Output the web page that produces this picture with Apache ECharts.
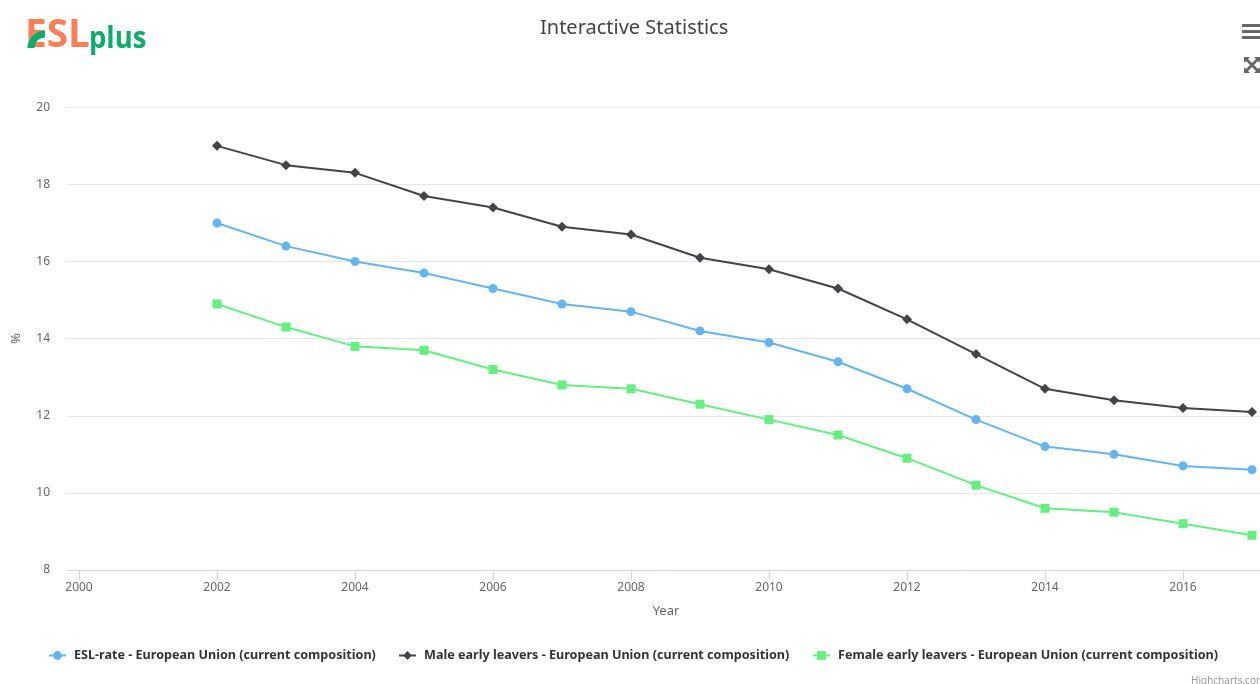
<!DOCTYPE html>
<html>
<head>
<meta charset="utf-8">
<title>Interactive Statistics</title>
<style>
  html, body { margin: 0; padding: 0; background: #fff; overflow: hidden; }
  #chart { width: 1260px; height: 684px; }
</style>
<script src="https://cdn.jsdelivr.net/npm/echarts@6/dist/echarts.min.js"></script>
</head>
<body>
<div id="chart"></div>
<script>
// Early school leaving, European Union, percent per year
const years = [2002, 2003, 2004, 2005, 2006, 2007, 2008, 2009, 2010, 2011, 2012, 2013, 2014, 2015, 2016, 2017];
const eslRate = [17, 16.4, 16, 15.7, 15.3, 14.9, 14.7, 14.2, 13.9, 13.4, 12.7, 11.9, 11.2, 11, 10.7, 10.6];
const maleLeavers = [19, 18.5, 18.3, 17.7, 17.4, 16.9, 16.7, 16.1, 15.8, 15.3, 14.5, 13.6, 12.7, 12.4, 12.2, 12.1];
const femaleLeavers = [14.9, 14.3, 13.8, 13.7, 13.2, 12.8, 12.7, 12.3, 11.9, 11.5, 10.9, 10.2, 9.6, 9.5, 9.2, 8.9];
const yearTicks = [2000, 2002, 2004, 2006, 2008, 2010, 2012, 2014, 2016];
const seriesNames = [
  'ESL-rate - European Union (current composition)',
  'Male early leavers - European Union (current composition)',
  'Female early leavers - European Union (current composition)'
];

const FONT = '"Noto Sans", "Open Sans", sans-serif';
const pairs = vals => years.map((y, i) => [y, vals[i]]);

const makeSeries = (name, vals, color, symbol, size) => ({
  name, type: 'line', data: pairs(vals), symbol, symbolSize: size,
  showAllSymbols: true, clip: false,
  lineStyle: { color, width: 2 },
  itemStyle: { color },
  emphasis: { disabled: true }
});

const makeLegend = (name, left) => ({
  data: [name], left, top: 649, padding: 0, itemWidth: 17, itemHeight: 11, itemGap: 0,
  textStyle: { fontFamily: FONT, fontSize: 12.6, fontWeight: 'bold', color: '#333', padding: [0, 0, 0, 3] },
  selectedMode: false
});

const chart = echarts.init(document.getElementById('chart'), null, { renderer: 'canvas' });
chart.setOption({
  animation: false,
  backgroundColor: '#fff',
  title: {
    text: 'Interactive Statistics', left: 540, top: 18, padding: 0,
    textStyle: { fontFamily: FONT, fontSize: 20, fontWeight: 'normal', color: '#444' }
  },
  legend: [
    makeLegend(seriesNames[0], 48),
    makeLegend(seriesNames[1], 398),
    makeLegend(seriesNames[2], 812)
  ],
  grid: { left: 67, right: 0, top: 107.3, bottom: 114, containLabel: false, outerBoundsMode: 'none' },
  xAxis: {
    type: 'value', min: 1999.826, max: 2017.116,
    name: 'Year', nameLocation: 'middle', nameGap: 35,
    nameTextStyle: { fontFamily: FONT, fontSize: 13, color: '#666', padding: [0, 0, 0, 5] },
    splitLine: { show: false },
    axisLine: { show: true, lineStyle: { color: '#ccd6eb', width: 1 } },
    axisTick: { show: true, length: 10, lineStyle: { color: '#ccd6eb' }, customValues: yearTicks },
    axisLabel: {
      fontFamily: FONT, fontSize: 12, color: '#666', margin: 12,
      customValues: yearTicks, formatter: v => String(Math.round(v))
    }
  },
  yAxis: {
    type: 'value', min: 8, max: 20, interval: 2,
    name: '%', nameLocation: 'middle', nameGap: 44, nameRotate: 90,
    nameTextStyle: { fontFamily: FONT, fontSize: 13, color: '#666' },
    axisLine: { show: false }, axisTick: { show: false },
    splitLine: { lineStyle: { color: '#e6e6e6', width: 1 } },
    axisLabel: { fontFamily: FONT, fontSize: 12, color: '#666', margin: 17 }
  },
  series: [
    makeSeries(seriesNames[0], eslRate, '#64b5ee', 'circle', 9),
    makeSeries(seriesNames[1], maleLeavers, '#434348', 'diamond', 10),
    makeSeries(seriesNames[2], femaleLeavers, '#66ee80', 'rect', 9)
  ],
  graphic: [
    // Brand mark: lettering with a swoosh across the E
    { type: 'text', x: 25, y: 16, scaleX: 0.97, style: { text: 'ESL', fontFamily: '"Open Sans", sans-serif', fontSize: 40, fontWeight: 'bold', fill: '#fb8058' } },
    { type: 'arc', shape: { cx: 45, cy: 48, r: 14, startAngle: Math.PI, endAngle: Math.PI * 1.5 }, style: { stroke: '#0dac6b', lineWidth: 7, fill: 'none' } },
    { type: 'text', x: 89, y: 24, scaleX: 0.915, style: { text: 'plus', fontFamily: '"Open Sans", sans-serif', fontSize: 30, fontWeight: 'bold', fill: '#0dac6b' } },
    // Menu button
    { type: 'rect', shape: { x: 1242, y: 24, width: 18, height: 3 }, style: { fill: '#666' } },
    { type: 'rect', shape: { x: 1242, y: 30, width: 18, height: 3 }, style: { fill: '#666' } },
    { type: 'rect', shape: { x: 1242, y: 36, width: 18, height: 3 }, style: { fill: '#666' } },
    // Fullscreen button
    { type: 'polygon', shape: { points: [[1244, 57], [1250, 57], [1248, 59], [1252, 63], [1256, 59], [1254, 57], [1260, 57], [1260, 63], [1258, 61], [1254, 65], [1258, 69], [1260, 67], [1260, 73], [1254, 73], [1256, 71], [1252, 67], [1248, 71], [1250, 73], [1244, 73], [1244, 67], [1246, 69], [1250, 65], [1246, 61], [1244, 63]] }, style: { fill: '#666' } },
    // Library credit
    { type: 'text', x: 1191, y: 676, style: { text: 'Highcharts.com', fontFamily: FONT, fontSize: 10, fill: '#999' } }
  ]
});
</script>
</body>
</html>
